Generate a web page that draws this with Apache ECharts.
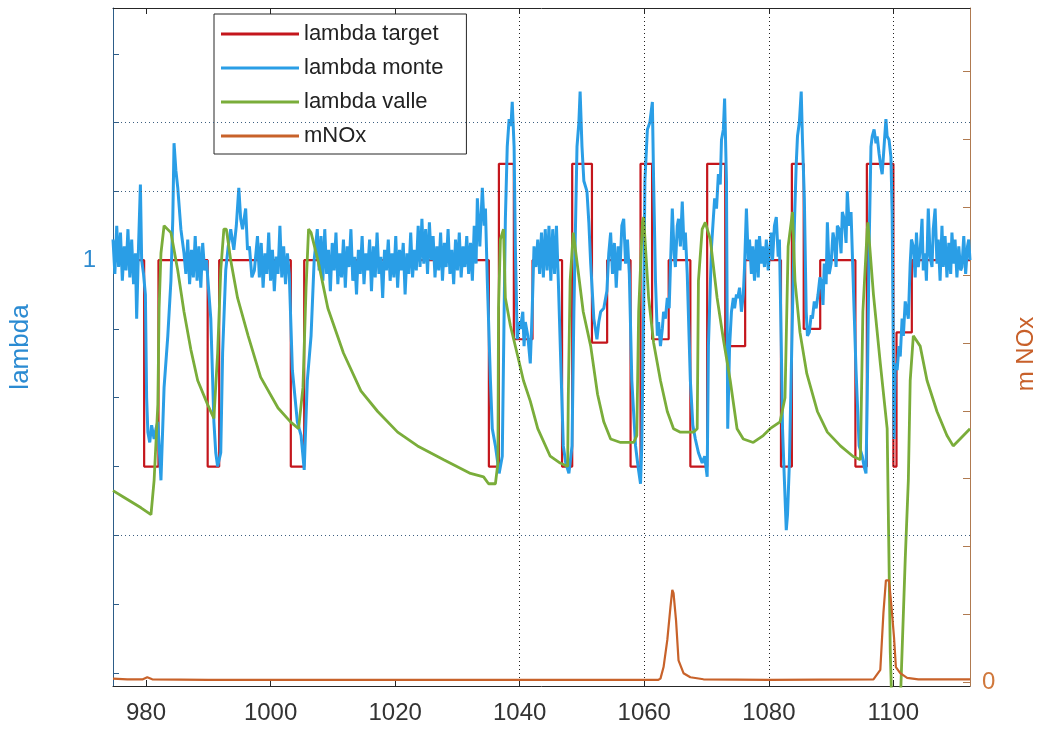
<!DOCTYPE html>
<html><head><meta charset="utf-8">
<script src="https://cdn.jsdelivr.net/npm/echarts@6/dist/echarts.min.js"></script>
<style>html,body{margin:0;padding:0;background:#fff}#c{width:1055px;height:731px}</style>
</head><body><div id="c"></div>
<script>
const xTicks = [980, 1000, 1020, 1040, 1060, 1080, 1100];
const lambdaTicks = [0.88, 0.90, 0.92, 0.94, 0.96, 0.98, 1.00, 1.02, 1.04, 1.06];
const lambdaLabels = [1];
const noxTicks = [0, 1, 2, 3, 4, 5, 6, 7, 8, 9];
const noxLabels = [0];
const hGrid = [1.04, 1.02, 0.92];
const vGrid = [1040, 1060, 1080, 1100];
const seriesNames = ['lambda target', 'lambda monte', 'lambda valle', 'mNOx'];

// lambda target (step changes: [time, level])
const target = [[974.7,1.0],[979.7,0.94],[982.0,1.0],[989.9,0.94],[991.75,1.0],[1003.25,0.94],[1005.4,1.0],
[1035.05,0.94],[1036.66,1.028],[1039.06,0.977],[1042.06,1.0],[1046.8,0.94],[1048.43,1.028],[1051.6,0.976],
[1054.04,1.0],[1057.8,0.94],[1059.4,1.028],[1061.26,0.977],[1063.92,1.0],[1067.4,0.94],[1070.1,1.028],
[1073.0,0.975],[1076.2,1.0],[1081.95,0.94],[1083.7,1.028],[1085.6,0.980],[1088.25,1.0],[1093.9,0.94],
[1095.74,1.028],[1100.0,0.94],[1100.5,0.979],[1102.96,1.0],[1112.3,1.0]];

// lambda monte
const monte = [[974.7,1.006],[975.0,0.996],[975.3,1.010],[975.6,0.998],[975.9,1.008],[976.2,0.994],[976.5,1.004],
[976.8,0.997],[977.1,1.009],[977.4,0.995],[977.7,1.006],[978.0,0.993],[978.3,1.002],[978.5,0.983],[978.8,1.004],
[979.1,1.022],[979.3,1.000],[979.6,0.996],[979.9,0.990],[980.1,0.960],[980.3,0.950],[980.6,0.947],[980.9,0.952],
[981.3,0.948],[981.6,0.951],[981.9,0.953],[982.4,0.936],[982.9,0.963],[983.5,0.978],[984.0,0.994],[984.3,1.012],
[984.5,1.034],[984.8,1.026],[985.1,1.021],[985.6,1.009],[986.1,1.002],[986.4,0.996],[986.7,1.006],[987.0,0.993],
[987.3,1.003],[987.6,0.995],[987.9,1.007],[988.2,0.994],[988.5,1.004],[988.8,0.992],[989.1,1.005],[989.4,0.997],
[989.7,1.000],[990.4,0.983],[990.9,0.953],[991.2,0.944],[991.5,0.940],[992.0,0.944],[992.3,0.973],[992.8,0.997],
[993.2,1.004],[993.6,1.009],[994.1,1.003],[994.5,1.010],[994.9,1.021],[995.2,1.012],[995.5,1.009],[996.0,1.015],
[996.3,1.003],[996.6,1.004],[997.0,0.995],[997.4,0.997],[997.9,1.007],[998.2,0.995],[998.5,1.005],[998.8,0.992],
[999.1,1.002],[999.4,0.996],[999.7,1.008],[1000.0,0.994],[1000.3,1.003],[1000.6,0.991],[1000.9,1.001],[1001.2,0.996],
[1001.5,1.010],[1001.8,0.995],[1002.1,1.004],[1002.4,0.993],[1002.7,1.002],[1003.0,0.996],[1003.5,0.968],[1004.3,0.953],
[1004.9,0.949],[1005.4,0.939],[1005.9,0.965],[1006.5,0.978],[1007.0,1.000],[1007.5,1.009],[1007.8,0.997],[1008.1,1.007],
[1008.4,0.994],[1008.7,1.009],[1009.0,0.996],[1009.3,1.003],[1009.6,0.991],[1009.9,1.005],[1010.2,0.997],[1010.5,1.008],
[1010.8,0.993],[1011.1,1.002],[1011.4,0.995],[1011.7,1.006],[1012.0,0.992],[1012.3,1.004],[1012.6,0.998],[1012.9,1.009],
[1013.2,0.994],[1013.5,1.001],[1013.8,0.990],[1014.1,1.003],[1014.4,0.996],[1014.7,1.007],[1015.0,0.993],[1015.3,1.002],
[1015.6,0.997],[1015.9,1.006],[1016.2,0.991],[1016.5,1.004],[1016.8,0.995],[1017.1,1.008],[1017.4,0.996],[1017.7,1.001],
[1018.0,0.989],[1018.3,1.003],[1018.6,0.997],[1018.9,1.006],[1019.2,0.994],[1019.5,1.002],[1019.8,0.995],[1020.1,1.007],
[1020.4,0.992],[1020.7,1.003],[1021.0,0.997],[1021.3,1.005],[1021.6,0.990],[1021.9,1.002],[1022.2,0.996],[1022.5,1.008],
[1022.8,0.995],[1023.1,1.003],[1023.4,0.997],[1023.7,1.010],[1024.0,0.998],[1024.3,1.012],[1024.6,0.999],[1024.9,1.009],
[1025.2,0.996],[1025.5,1.011],[1025.8,1.000],[1026.1,1.007],[1026.4,0.995],[1026.7,1.004],[1027.0,0.997],[1027.3,1.008],
[1027.6,0.994],[1027.9,1.005],[1028.2,0.998],[1028.5,1.009],[1028.8,0.996],[1029.1,1.003],[1029.4,0.993],[1029.7,1.006],
[1030.0,0.997],[1030.3,1.008],[1030.6,0.995],[1030.9,1.004],[1031.2,0.998],[1031.5,1.007],[1031.8,0.996],[1032.1,1.005],
[1032.4,0.994],[1032.7,1.010],[1033.0,0.999],[1033.2,1.018],[1033.6,1.004],[1034.0,1.021],[1034.3,1.010],[1034.5,1.015],
[1034.8,0.994],[1035.3,0.965],[1035.6,0.951],[1036.1,0.946],[1036.7,0.938],[1037.2,0.943],[1037.5,0.985],[1037.7,1.012],
[1038.0,1.033],[1038.3,1.041],[1038.6,1.039],[1038.8,1.046],[1039.1,1.033],[1039.3,1.004],[1039.6,0.977],[1039.9,0.982],
[1040.1,0.980],[1040.5,0.985],[1040.7,0.975],[1040.9,0.982],[1041.3,0.978],[1041.7,0.970],[1042.0,0.985],[1042.3,1.004],
[1042.6,0.998],[1042.9,1.006],[1043.2,0.996],[1043.5,1.008],[1043.8,0.995],[1044.1,1.009],[1044.4,0.997],[1044.7,1.010],
[1045.0,0.994],[1045.3,1.009],[1045.6,0.996],[1045.9,1.010],[1046.2,0.994],[1046.5,0.994],[1047.0,0.946],[1047.4,0.941],
[1047.9,0.938],[1048.4,0.946],[1048.7,0.985],[1049.0,1.014],[1049.2,1.033],[1049.5,1.040],[1049.7,1.049],[1050.0,1.033],
[1050.3,1.023],[1050.8,1.020],[1051.1,1.011],[1051.4,0.999],[1051.9,0.983],[1052.4,0.977],[1052.7,0.982],[1053.0,0.985],
[1053.5,0.986],[1054.0,0.991],[1054.3,1.002],[1054.6,1.008],[1054.9,0.996],[1055.2,1.005],[1055.5,0.992],[1055.8,1.004],
[1056.1,0.997],[1056.4,1.010],[1056.7,1.012],[1057.0,0.999],[1057.3,1.006],[1057.6,0.996],[1058.0,0.965],[1058.6,0.946],
[1059.0,0.940],[1059.4,0.935],[1059.6,0.946],[1059.9,0.985],[1060.1,1.023],[1060.5,1.038],[1060.9,1.040],[1061.3,1.046],
[1061.5,1.023],[1061.8,0.994],[1062.1,0.978],[1062.3,0.982],[1062.6,0.975],[1062.9,0.980],[1063.1,0.985],[1063.4,0.983],
[1063.7,0.989],[1064.0,0.986],[1064.2,0.998],[1064.5,1.015],[1064.8,1.002],[1065.0,0.998],[1065.3,1.010],[1065.5,1.012],
[1065.8,1.004],[1066.1,1.017],[1066.4,1.003],[1066.6,1.008],[1066.9,0.996],[1067.1,0.996],[1067.4,0.965],[1067.8,0.952],
[1068.2,0.948],[1068.7,0.944],[1069.3,0.941],[1069.7,0.943],[1070.1,0.937],[1070.3,0.975],[1070.8,1.004],[1071.3,1.018],
[1071.6,1.015],[1071.9,1.025],[1072.2,1.022],[1072.4,1.035],[1072.7,1.038],[1072.9,1.047],[1073.2,1.023],[1073.4,0.951],
[1073.7,0.975],[1074.0,0.985],[1074.3,0.989],[1074.5,0.986],[1074.8,0.990],[1075.0,0.989],[1075.3,0.992],[1075.6,0.985],
[1075.9,0.990],[1076.1,0.998],[1076.4,1.015],[1076.7,1.000],[1076.9,1.006],[1077.2,0.996],[1077.4,1.004],[1077.7,0.994],
[1078.0,1.006],[1078.3,0.995],[1078.5,1.007],[1078.8,0.999],[1079.0,1.004],[1079.3,0.998],[1079.6,1.006],[1079.9,0.997],
[1080.1,1.002],[1080.4,1.008],[1080.6,1.000],[1080.9,1.010],[1081.2,1.0125],[1081.5,1.001],[1081.7,1.006],[1082.0,0.975],
[1082.2,0.951],[1082.5,0.936],[1082.8,0.9215],[1083.0,0.926],[1083.3,0.941],[1083.8,0.985],[1084.1,1.010],[1084.4,1.028],
[1084.6,1.036],[1084.9,1.040],[1085.2,1.049],[1085.4,1.035],[1085.7,1.018],[1086.0,0.985],[1086.2,0.978],[1086.5,0.979],
[1086.8,0.984],[1087.0,0.983],[1087.3,0.988],[1087.6,0.986],[1087.9,0.990],[1088.2,0.995],[1088.4,0.994],[1088.7,0.987],
[1088.9,0.999],[1089.2,0.993],[1089.4,1.011],[1089.7,0.996],[1090.0,0.999],[1090.3,1.008],[1090.5,1.006],[1090.8,0.998],
[1091.0,1.010],[1091.3,1.009],[1091.6,1.002],[1091.8,1.014],[1092.1,1.012],[1092.4,1.005],[1092.6,1.020],[1092.9,1.010],
[1093.2,1.014],[1093.7,0.985],[1094.0,0.968],[1094.5,0.946],[1095.0,0.943],[1095.3,0.940],[1095.6,0.938],[1095.8,0.960],
[1096.1,1.004],[1096.4,1.033],[1096.6,1.036],[1096.9,1.038],[1097.2,1.034],[1097.4,1.036],[1097.7,1.031],[1098.0,1.027],
[1098.2,1.025],[1098.5,1.033],[1098.8,1.041],[1099.0,1.036],[1099.3,1.035],[1099.6,1.030],[1099.8,1.014],[1100.1,0.948],
[1100.3,0.970],[1100.6,0.968],[1100.9,0.975],[1101.1,0.972],[1101.4,0.983],[1101.6,0.978],[1101.9,0.988],[1102.2,0.985],
[1102.4,0.983],[1102.7,0.999],[1102.9,1.006],[1103.2,1.004],[1103.5,0.995],[1103.7,1.008],[1104.0,0.998],[1104.3,1.003],
[1104.6,1.012],[1104.8,0.997],[1105.1,1.002],[1105.3,0.994],[1105.6,1.015],[1105.9,1.001],[1106.2,0.998],[1106.4,1.009],
[1106.7,1.015],[1107.0,0.999],[1107.2,1.006],[1107.5,0.994],[1107.8,1.010],[1108.0,0.998],[1108.3,1.007],[1108.6,0.995],
[1108.9,1.005],[1109.2,0.996],[1109.4,1.008],[1109.7,0.999],[1109.9,1.006],[1110.2,0.995],[1110.5,1.004],[1110.8,0.997],
[1111.0,0.998],[1111.3,1.007],[1111.6,0.996],[1111.9,1.004],[1112.1,1.006],[1112.3,1.000]];

// lambda valle
const valle = [[974.7,0.933],[976.5,0.931],[979.2,0.928],[980.8,0.926],[981.3,0.936],[981.9,0.958],[982.1,0.986],
[982.4,1.002],[982.9,1.010],[984.0,1.008],[985.1,0.997],[986.1,0.985],[987.2,0.974],[988.3,0.965],[989.9,0.958],
[990.9,0.954],[991.5,0.973],[992.0,0.997],[992.5,1.009],[992.9,1.009],[993.6,1.000],[994.7,0.989],[996.4,0.978],
[998.4,0.966],[1001.2,0.957],[1003.2,0.953],[1004.5,0.951],[1005.2,0.963],[1005.7,0.992],[1006.1,1.009],[1006.5,1.008],
[1007.6,1.000],[1009.2,0.986],[1011.7,0.973],[1014.5,0.962],[1017.2,0.956],[1020.4,0.950],[1023.6,0.946],[1027.8,0.942],
[1032.1,0.938],[1034.2,0.937],[1035.0,0.935],[1036.1,0.935],[1036.5,0.941],[1036.6,0.986],[1036.9,1.006],[1037.4,1.009],
[1037.7,0.989],[1038.5,0.981],[1039.7,0.972],[1040.6,0.965],[1041.7,0.959],[1042.9,0.951],[1044.9,0.943],[1046.5,0.941],
[1047.7,0.940],[1047.8,0.960],[1048.1,0.994],[1048.6,1.008],[1049.3,0.998],[1050.2,0.985],[1051.4,0.975],[1052.5,0.961],
[1053.5,0.953],[1054.6,0.948],[1056.2,0.947],[1058.3,0.947],[1058.8,0.949],[1059.1,0.985],[1059.7,1.011],[1059.9,1.0125],
[1060.7,0.989],[1061.5,0.976],[1062.6,0.965],[1063.7,0.956],[1064.7,0.951],[1065.8,0.950],[1067.9,0.950],[1068.5,0.951],
[1068.7,0.994],[1069.3,1.009],[1069.8,1.011],[1070.6,1.006],[1071.7,0.989],[1072.7,0.977],[1073.8,0.965],[1074.9,0.951],
[1075.9,0.948],[1077.5,0.947],[1079.1,0.949],[1080.2,0.951],[1081.8,0.953],[1082.6,0.960],[1083.1,1.004],[1083.8,1.014],
[1084.2,0.994],[1085.0,0.979],[1086.1,0.967],[1087.8,0.956],[1089.4,0.950],[1091.5,0.946],[1093.5,0.943],[1094.7,0.942],
[1095.1,0.985],[1095.8,1.009],[1095.9,1.011],[1096.8,0.990],[1097.9,0.970],[1099.0,0.951],[1099.5,0.886],[1100.0,0.855],
[1100.8,0.855],[1101.2,0.876],[1101.9,0.913],[1102.4,0.936],[1102.7,0.965],[1103.2,0.978],[1104.3,0.975],[1105.4,0.965],
[1107.0,0.956],[1108.6,0.949],[1109.6,0.946],[1110.7,0.948],[1112.3,0.951]];

// mNOx (right axis)
const mnox = [[974.7,0.05],[977.0,0.04],[979.5,0.04],[980.2,0.07],[981.0,0.04],[990.0,0.03],[1000.0,0.03],[1020.0,0.03],
[1040.0,0.03],[1062.2,0.03],[1062.6,0.05],[1063.1,0.22],[1063.7,0.62],[1064.2,1.10],[1064.5,1.36],[1064.7,1.31],
[1065.1,0.91],[1065.5,0.32],[1066.3,0.13],[1067.4,0.07],[1069.5,0.04],[1080.0,0.03],[1096.8,0.04],[1097.9,0.18],
[1098.4,1.02],[1098.8,1.50],[1099.3,1.50],[1099.7,1.10],[1100.1,0.66],[1100.4,0.22],[1101.1,0.13],[1102.2,0.06],
[1104.0,0.04],[1112.3,0.04]];

const FONT = 'Liberation Sans, Arial, sans-serif';
const chart = echarts.init(document.getElementById('c'), null, {renderer: 'canvas'});
const fmt = v => String(Math.round(v * 1000) / 1000);

chart.setOption({
  animation: false,
  backgroundColor: '#ffffff',
  grid: {left: 112, right: 85, top: 8, bottom: 45, containLabel: false},
  legend: {
    data: seriesNames, orient: 'vertical', left: 214, top: 14,
    icon: 'rect', itemWidth: 78, itemHeight: 3, itemGap: 12,
    padding: [9, 23, 7, 7],
    borderColor: '#262626', borderWidth: 1, backgroundColor: '#ffffff',
    textStyle: {fontSize: 22, lineHeight: 22, color: '#222', fontFamily: FONT},
    selectedMode: false
  },
  xAxis: [{
    type: 'value', min: 974.7, max: 1112.3, position: 'bottom',
    axisLine: {show: true, onZero: false, lineStyle: {color: '#262626', width: 1}},
    axisTick: {show: true, inside: true, length: 6, customValues: xTicks, lineStyle: {color: '#262626'}},
    axisLabel: {customValues: xTicks, formatter: fmt, fontSize: 24, color: '#333', margin: 15, fontFamily: FONT},
    splitLine: {show: false}
  }, {
    type: 'value', min: 974.7, max: 1112.3, position: 'top',
    axisLine: {show: true, onZero: false, lineStyle: {color: '#262626', width: 1}},
    axisTick: {show: true, inside: true, length: 6, customValues: xTicks, lineStyle: {color: '#262626'}},
    axisLabel: {show: false}, splitLine: {show: false}
  }],
  yAxis: [{
    type: 'value', min: 0.8762, max: 1.0733, position: 'left',
    axisLine: {show: true, onZero: false, lineStyle: {color: '#2d5d88', width: 1}},
    axisTick: {show: true, inside: true, length: 6, customValues: lambdaTicks, lineStyle: {color: '#2d5d88'}},
    axisLabel: {customValues: lambdaLabels, formatter: fmt, fontSize: 24, color: '#2e8bd0', margin: 17, fontFamily: FONT},
    splitLine: {show: false},
    name: 'lambda', nameLocation: 'middle', nameGap: 79,
    nameTextStyle: {fontSize: 26, color: '#2b8bd2', fontFamily: FONT}
  }, {
    type: 'value', min: -0.059, max: 9.94, position: 'right',
    axisLine: {show: true, onZero: false, lineStyle: {color: '#b07a50', width: 1}},
    axisTick: {show: true, inside: true, length: 7, customValues: noxTicks, lineStyle: {color: '#b07a50'}},
    axisLabel: {customValues: noxLabels, formatter: fmt, fontSize: 24, color: '#d0783c', margin: 12, fontFamily: FONT},
    splitLine: {show: false},
    name: 'm NOx', nameLocation: 'middle', nameRotate: 90, nameGap: 44,
    nameTextStyle: {fontSize: 24, color: '#c8602a', fontFamily: FONT, padding: [0, 14, 0, 0]}
  }],
  series: [{
    name: 'grid', type: 'line', data: [], xAxisIndex: 0, yAxisIndex: 0, silent: true, z: 1,
    markLine: {
      silent: true, symbol: 'none', animation: false, label: {show: false},
      data: hGrid.map(v => ({yAxis: v, lineStyle: {color: '#3d5f80', width: 1, type: [1, 3]}}))
        .concat(vGrid.map(v => ({xAxis: v, lineStyle: {color: '#222', width: 1, type: [1, 3]}})))
    }
  }, {
    name: seriesNames[0], type: 'line', data: target, step: 'end', symbol: 'none', showSymbol: false,
    lineStyle: {color: '#c4161c', width: 2.2}, itemStyle: {color: '#c4161c'}, z: 2
  }, {
    name: seriesNames[1], type: 'line', data: monte, symbol: 'none', showSymbol: false,
    lineStyle: {color: '#2a9ee6', width: 3}, itemStyle: {color: '#2a9ee6'}, z: 3
  }, {
    name: seriesNames[2], type: 'line', data: valle, symbol: 'none', showSymbol: false,
    lineStyle: {color: '#7aad3a', width: 2.8}, itemStyle: {color: '#7aad3a'}, z: 4
  }, {
    name: seriesNames[3], type: 'line', data: mnox, yAxisIndex: 1, symbol: 'none', showSymbol: false,
    lineStyle: {color: '#c8622a', width: 2.2}, itemStyle: {color: '#c8622a'}, z: 5
  }]
});
</script>
</body></html>
